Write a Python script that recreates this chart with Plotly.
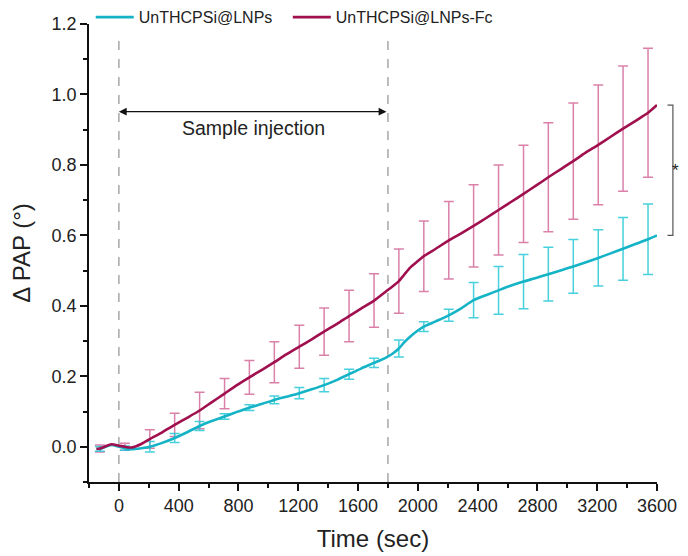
import plotly.graph_objects as go

# ---- data ----
time_line = [-150, -127, -50, 0, 40, 85, 150, 207, 290, 373, 460, 540, 620, 707, 790, 873,
             960, 1040, 1120, 1207, 1290, 1373, 1460, 1540, 1620, 1707, 1790, 1830, 1873,
             1910, 1950, 2000, 2040, 2120, 2207, 2290, 2373, 2460, 2540, 2620, 2707, 2790,
             2873, 2960, 3040, 3120, 3207, 3290, 3373, 3460, 3540, 3600]
lnp_line = [-0.006, -0.006, 0.005, 0.0, -0.004, -0.007, -0.004, 0.0, 0.011, 0.025, 0.042,
            0.059, 0.073, 0.086, 0.099, 0.111, 0.122, 0.133, 0.142, 0.152, 0.163, 0.175,
            0.190, 0.206, 0.222, 0.238, 0.254, 0.264, 0.279, 0.297, 0.313, 0.330, 0.341,
            0.356, 0.373, 0.393, 0.416, 0.431, 0.444, 0.457, 0.469, 0.479, 0.490, 0.501,
            0.512, 0.523, 0.536, 0.549, 0.562, 0.576, 0.589, 0.600]
fc_line = [-0.006, -0.005, 0.007, 0.003, 0.0, -0.002, 0.008, 0.022, 0.041, 0.062, 0.083,
           0.103, 0.126, 0.151, 0.175, 0.197, 0.219, 0.240, 0.262, 0.284, 0.305, 0.327,
           0.349, 0.371, 0.392, 0.415, 0.442, 0.455, 0.470, 0.489, 0.509, 0.527, 0.541,
           0.562, 0.586, 0.606, 0.627, 0.650, 0.672, 0.694, 0.718, 0.741, 0.765, 0.789,
           0.811, 0.834, 0.857, 0.880, 0.903, 0.926, 0.948, 0.970]

bar_time = [-127, 40, 207, 373, 540, 707, 873, 1040, 1207, 1373, 1540, 1707, 1873, 2040,
            2207, 2373, 2540, 2707, 2873, 3040, 3207, 3373, 3540]
lnp_err = [0.007, 0.006, 0.015, 0.013, 0.013, 0.008, 0.008, 0.011, 0.016, 0.019, 0.014,
           0.013, 0.024, 0.014, 0.017, 0.050, 0.068, 0.077, 0.076, 0.076, 0.080, 0.089, 0.100]
fc_err = [0.010, 0.010, 0.026, 0.033, 0.052, 0.043, 0.048, 0.058, 0.061, 0.067, 0.073,
          0.076, 0.091, 0.100, 0.110, 0.117, 0.128, 0.138, 0.155, 0.165, 0.170, 0.178, 0.183]

series_names = ["UnTHCPSi@LNPs", "UnTHCPSi@LNPs-Fc"]
x_ticks = [0, 400, 800, 1200, 1600, 2000, 2400, 2800, 3200, 3600]
y_ticks = [0.0, 0.2, 0.4, 0.6, 0.8, 1.0, 1.2]
injection_start, injection_end = 0, 1800

# ---- styles ----
cyan = "#14B3C6"
maroon = "#A0104F"
cyan_err = "rgba(40,200,215,0.85)"
pink_err = "rgba(205,85,140,0.75)"
FONT = "Liberation Sans, Arial, sans-serif"
X_RANGE = [-200, 3600]
Y_RANGE = [-0.1, 1.2]

lnp_lookup = dict(zip(time_line, lnp_line))
fc_lookup = dict(zip(time_line, fc_line))
lnp_bar_y = [lnp_lookup[t] for t in bar_time]
fc_bar_y = [fc_lookup[t] for t in bar_time]

fig = go.Figure()

# error bars (drawn first, under the lines)
fig.add_trace(go.Scatter(x=bar_time, y=fc_bar_y, mode="markers",
                         marker=dict(size=1, opacity=0, color=maroon),
                         error_y=dict(type="data", array=fc_err, visible=True,
                                      color=pink_err, thickness=1.5, width=5),
                         showlegend=False, hoverinfo="skip"))
fig.add_trace(go.Scatter(x=bar_time, y=lnp_bar_y, mode="markers",
                         marker=dict(size=1, opacity=0, color=cyan),
                         error_y=dict(type="data", array=lnp_err, visible=True,
                                      color=cyan_err, thickness=1.5, width=5),
                         showlegend=False, hoverinfo="skip"))

fig.add_trace(go.Scatter(x=time_line, y=lnp_line, mode="lines", name=series_names[0],
                         legend="legend",
                         line=dict(color=cyan, width=2.6, shape="spline", smoothing=0.6)))
fig.add_trace(go.Scatter(x=time_line, y=fc_line, mode="lines", name=series_names[1],
                         legend="legend2",
                         line=dict(color=maroon, width=2.6, shape="spline", smoothing=0.6)))

shapes = []
for xv in (injection_start, injection_end):
    shapes.append(dict(type="line", xref="x", yref="y", x0=xv, x1=xv, y0=Y_RANGE[0], y1=1.155,
                       line=dict(color="#9A9A9A", width=1.3, dash="dash"), layer="below"))

# significance bracket on the right (paper coordinates from series end values)
def ypaper(v):
    return (v - Y_RANGE[0]) / (Y_RANGE[1] - Y_RANGE[0])

top = ypaper(fc_line[-1])
bot = ypaper(lnp_line[-1])
bx, bl = 1.028, 1.0185
shapes.append(dict(type="path", xref="paper", yref="paper",
                   path=f"M {bl},{top} L {bx},{top} L {bx},{bot} L {bl},{bot}",
                   line=dict(color="#555555", width=1.2)))

annotations = [
    dict(x=injection_start, y=0.951, ax=injection_end, ay=0.951, xref="x", yref="y",
         axref="x", ayref="y", text="", showarrow=True, arrowhead=2, arrowside="end+start",
         arrowsize=1.3, arrowwidth=1.2, arrowcolor="#111111", standoff=0, startstandoff=0),
    dict(x=(injection_start + injection_end) / 2, y=0.905, xref="x", yref="y",
         text="Sample injection", showarrow=False,
         font=dict(family=FONT, size=19.5, color="#222222")),
    dict(x=1.040, y=(fc_line[-1] + lnp_line[-1]) / 2, xref="paper", yref="y", text="*",
         showarrow=False, borderpad=0, font=dict(family=FONT, size=17, color="#222222")),
]

legend_style = dict(orientation="h", xanchor="left", y=1.052, yanchor="top",
                    font=dict(family=FONT, size=16, color="#222222"),
                    bgcolor="rgba(0,0,0,0)", itemwidth=38)

# the page body has an 8px margin, so the figure is sized/offset for it
fig.update_layout(
    width=680, height=548, autosize=False,
    margin=dict(l=81, r=31, t=16, b=74, autoexpand=False),
    paper_bgcolor="white", plot_bgcolor="white",
    font=dict(family=FONT, color="#222222"),
    shapes=shapes, annotations=annotations,
    legend=dict(x=0.003, **legend_style),
    legend2=dict(x=0.350, **legend_style),
    xaxis=dict(range=X_RANGE, tickvals=x_ticks, showgrid=False, zeroline=False,
               showline=True, linecolor="#111111", linewidth=1.5,
               ticks="outside", ticklen=7, tickwidth=1.5, tickcolor="#111111",
               tickfont=dict(family=FONT, size=18, color="#222222"),
               minor=dict(dtick=200, tick0=0, ticks="outside", ticklen=4, tickwidth=1.5,
                          tickcolor="#111111", showgrid=False),
               title=dict(text="Time (sec)", font=dict(family=FONT, size=24, color="#222222"),
                          standoff=15)),
    yaxis=dict(range=Y_RANGE, tickvals=y_ticks, tickformat=".1f", showgrid=False,
               zeroline=False, showline=True, linecolor="#111111", linewidth=1.5,
               ticks="outside", ticklen=7, tickwidth=1.5, tickcolor="#111111",
               tickfont=dict(family=FONT, size=18, color="#222222"),
               minor=dict(dtick=0.1, tick0=0, ticks="outside", ticklen=4, tickwidth=1.5,
                          tickcolor="#111111", showgrid=False),
               title=dict(text="Δ PAP (°)", font=dict(family=FONT, size=24, color="#222222"),
                          standoff=16)),
)

fig.write_html("out.html")
